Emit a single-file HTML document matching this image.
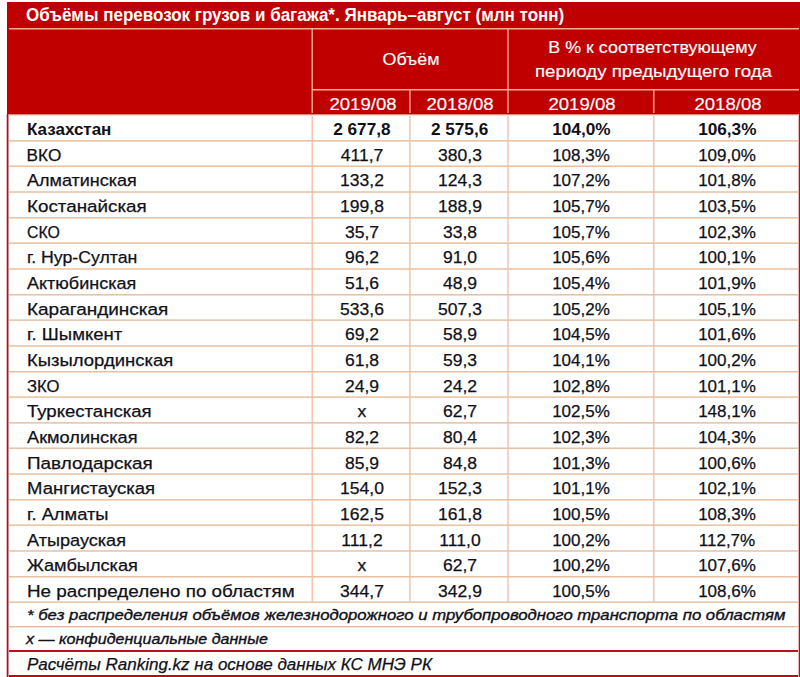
<!DOCTYPE html>
<html><head><meta charset="utf-8"><style>
html,body{margin:0;padding:0;background:#fff;}
body{width:800px;height:677px;overflow:hidden;position:relative;font-family:"Liberation Sans",sans-serif;font-size:17.2px;color:#101018;}
div{position:absolute;}
.t{white-space:nowrap;line-height:20px;height:20px;-webkit-text-stroke:0.25px #101018;}
.w{-webkit-text-stroke:0.15px #fff;}
.w{color:#fff;}
.b{font-weight:bold;-webkit-text-stroke:0;}
.c{text-align:center;transform-origin:50% 0;}
.l{transform-origin:0 0;}
</style></head><body>

<div style="left:7px;top:2px;width:793px;height:112px;background:#c00000"></div>
<div style="left:9px;top:28px;width:790px;height:1px;background:#ffb8a0;opacity:0.95"></div>
<div style="left:9px;top:29px;width:790px;height:1px;background:#ffb8a0;opacity:0.45"></div>
<div style="left:311px;top:29px;width:1px;height:85px;background:#ffb8a0;opacity:0.45"></div>
<div style="left:312px;top:29px;width:1px;height:85px;background:#ffb8a0;opacity:0.85"></div>
<div style="left:507px;top:29px;width:1px;height:85px;background:#ffb8a0;opacity:0.65"></div>
<div style="left:508px;top:29px;width:1px;height:85px;background:#ffb8a0;opacity:0.65"></div>
<div style="left:312px;top:89px;width:487px;height:1px;background:#ffb8a0;opacity:0.95"></div>
<div style="left:312px;top:90px;width:487px;height:1px;background:#ffb8a0;opacity:0.45"></div>
<div style="left:409px;top:90px;width:1px;height:24px;background:#ffb8a0;opacity:0.70"></div>
<div style="left:410px;top:90px;width:1px;height:24px;background:#ffb8a0;opacity:0.60"></div>
<div style="left:653px;top:90px;width:1px;height:24px;background:#ffb8a0;opacity:0.85"></div>
<div style="left:654px;top:90px;width:1px;height:24px;background:#ffb8a0;opacity:0.45"></div>
<div style="left:9px;top:140px;width:790px;height:1px;background:#e6bb9a;opacity:0.81"></div>
<div style="left:9px;top:141px;width:790px;height:1px;background:#e6bb9a;opacity:0.59"></div>
<div style="left:9px;top:165px;width:790px;height:1px;background:#e6bb9a;opacity:0.49"></div>
<div style="left:9px;top:166px;width:790px;height:1px;background:#e6bb9a;opacity:0.91"></div>
<div style="left:9px;top:191px;width:790px;height:1px;background:#e6bb9a;opacity:0.68"></div>
<div style="left:9px;top:192px;width:790px;height:1px;background:#e6bb9a;opacity:0.72"></div>
<div style="left:9px;top:217px;width:790px;height:1px;background:#e6bb9a;opacity:0.86"></div>
<div style="left:9px;top:218px;width:790px;height:1px;background:#e6bb9a;opacity:0.54"></div>
<div style="left:9px;top:242px;width:790px;height:1px;background:#e6bb9a;opacity:0.54"></div>
<div style="left:9px;top:243px;width:790px;height:1px;background:#e6bb9a;opacity:0.86"></div>
<div style="left:9px;top:268px;width:790px;height:1px;background:#e6bb9a;opacity:0.72"></div>
<div style="left:9px;top:269px;width:790px;height:1px;background:#e6bb9a;opacity:0.68"></div>
<div style="left:9px;top:294px;width:790px;height:1px;background:#e6bb9a;opacity:0.90"></div>
<div style="left:9px;top:295px;width:790px;height:1px;background:#e6bb9a;opacity:0.50"></div>
<div style="left:9px;top:319px;width:790px;height:1px;background:#e6bb9a;opacity:0.58"></div>
<div style="left:9px;top:320px;width:790px;height:1px;background:#e6bb9a;opacity:0.82"></div>
<div style="left:9px;top:345px;width:790px;height:1px;background:#e6bb9a;opacity:0.77"></div>
<div style="left:9px;top:346px;width:790px;height:1px;background:#e6bb9a;opacity:0.63"></div>
<div style="left:9px;top:371px;width:790px;height:1px;background:#e6bb9a;opacity:0.95"></div>
<div style="left:9px;top:372px;width:790px;height:1px;background:#e6bb9a;opacity:0.45"></div>
<div style="left:9px;top:396px;width:790px;height:1px;background:#e6bb9a;opacity:0.63"></div>
<div style="left:9px;top:397px;width:790px;height:1px;background:#e6bb9a;opacity:0.77"></div>
<div style="left:9px;top:422px;width:790px;height:1px;background:#e6bb9a;opacity:0.81"></div>
<div style="left:9px;top:423px;width:790px;height:1px;background:#e6bb9a;opacity:0.59"></div>
<div style="left:9px;top:447px;width:790px;height:1px;background:#e6bb9a;opacity:0.49"></div>
<div style="left:9px;top:448px;width:790px;height:1px;background:#e6bb9a;opacity:0.91"></div>
<div style="left:9px;top:473px;width:790px;height:1px;background:#e6bb9a;opacity:0.67"></div>
<div style="left:9px;top:474px;width:790px;height:1px;background:#e6bb9a;opacity:0.73"></div>
<div style="left:9px;top:499px;width:790px;height:1px;background:#e6bb9a;opacity:0.86"></div>
<div style="left:9px;top:500px;width:790px;height:1px;background:#e6bb9a;opacity:0.54"></div>
<div style="left:9px;top:524px;width:790px;height:1px;background:#e6bb9a;opacity:0.54"></div>
<div style="left:9px;top:525px;width:790px;height:1px;background:#e6bb9a;opacity:0.86"></div>
<div style="left:9px;top:550px;width:790px;height:1px;background:#e6bb9a;opacity:0.72"></div>
<div style="left:9px;top:551px;width:790px;height:1px;background:#e6bb9a;opacity:0.68"></div>
<div style="left:9px;top:576px;width:790px;height:1px;background:#e6bb9a;opacity:0.90"></div>
<div style="left:9px;top:577px;width:790px;height:1px;background:#e6bb9a;opacity:0.50"></div>
<div style="left:9px;top:601px;width:790px;height:1px;background:#e6bb9a;opacity:0.58"></div>
<div style="left:9px;top:602px;width:790px;height:1px;background:#e6bb9a;opacity:0.82"></div>
<div style="left:9px;top:113px;width:790px;height:1px;background:#b00000"></div>
<div style="left:9px;top:114px;width:790px;height:1px;background:#de8a74"></div>
<div style="left:9px;top:115px;width:790px;height:1px;background:#f9e0d2"></div>
<div style="left:311px;top:116px;width:1px;height:486px;background:#eebc9e;opacity:0.45"></div>
<div style="left:312px;top:116px;width:1px;height:486px;background:#eebc9e;opacity:0.85"></div>
<div style="left:409px;top:116px;width:1px;height:486px;background:#eebc9e;opacity:0.70"></div>
<div style="left:410px;top:116px;width:1px;height:486px;background:#eebc9e;opacity:0.60"></div>
<div style="left:507px;top:116px;width:1px;height:486px;background:#eebc9e;opacity:0.65"></div>
<div style="left:508px;top:116px;width:1px;height:486px;background:#eebc9e;opacity:0.65"></div>
<div style="left:653px;top:116px;width:1px;height:486px;background:#eebc9e;opacity:0.85"></div>
<div style="left:654px;top:116px;width:1px;height:486px;background:#eebc9e;opacity:0.45"></div>
<div style="left:9px;top:626px;width:790px;height:1px;background:#e6bb9a;opacity:0.95"></div>
<div style="left:9px;top:627px;width:790px;height:1px;background:#e6bb9a;opacity:0.45"></div>
<div style="left:9px;top:650px;width:790px;height:2px;background:#b8121c"></div>
<div style="left:7px;top:675px;width:793px;height:2px;background:#bc0a12"></div>
<div style="left:6px;top:114px;width:1px;height:563px;background:#f0b8bc"></div>
<div style="left:7px;top:114px;width:1px;height:563px;background:#8e1e26"></div>
<div style="left:8px;top:114px;width:1px;height:563px;background:#d08a8e"></div>
<div style="left:798px;top:114px;width:1px;height:563px;background:#f0b8bc"></div>
<div style="left:799px;top:114px;width:1px;height:563px;background:#921e24"></div>
<div class="t l w b" style="left:26.00px;top:5.16px;font-size:18.00px;transform:scaleX(0.9450);">Объёмы перевозок грузов и багажа*. Январь–август (млн тонн)</div>
<div class="t c w" style="left:312.70px;top:48.64px;width:196px;font-size:17.20px;transform:scaleX(1.0400);">Объём</div>
<div class="t c w" style="left:506.70px;top:36.54px;width:291px;font-size:17.20px;transform:scaleX(1.0400);">В % к соответствующему</div>
<div class="t c w" style="left:507.70px;top:61.44px;width:291px;font-size:17.20px;transform:scaleX(1.0870);">периоду предыдущего года</div>
<div class="t c w" style="left:313.50px;top:93.64px;width:98px;font-size:17.20px;transform:scaleX(1.0800);">2019/08</div>
<div class="t c w" style="left:411.00px;top:93.64px;width:98px;font-size:17.20px;transform:scaleX(1.0800);">2018/08</div>
<div class="t c w" style="left:533.10px;top:93.64px;width:98px;font-size:17.20px;transform:scaleX(1.0800);">2019/08</div>
<div class="t c w" style="left:678.90px;top:93.64px;width:98px;font-size:17.20px;transform:scaleX(1.0800);">2018/08</div>
<div class="t l b" style="left:26.60px;top:118.92px;font-size:17.20px;transform:scaleX(0.9881);">Казахстан</div>
<div class="t c b" style="left:313.90px;top:118.92px;width:96px;font-size:17.20px;transform:scaleX(1.0000);">2 677,8</div>
<div class="t c b" style="left:411.60px;top:118.92px;width:96px;font-size:17.20px;transform:scaleX(1.0000);">2 575,6</div>
<div class="t c b" style="left:533.40px;top:118.92px;width:96px;font-size:17.20px;transform:scaleX(1.0000);">104,0%</div>
<div class="t c b" style="left:679.30px;top:118.92px;width:96px;font-size:17.20px;transform:scaleX(1.0000);">106,3%</div>
<div class="t l " style="left:26.60px;top:144.58px;font-size:17.20px;transform:scaleX(1.0000);">ВКО</div>
<div class="t c " style="left:313.90px;top:144.58px;width:96px;font-size:17.20px;transform:scaleX(1.0200);">411,7</div>
<div class="t c " style="left:411.60px;top:144.58px;width:96px;font-size:17.20px;transform:scaleX(1.0200);">380,3</div>
<div class="t c " style="left:533.40px;top:144.58px;width:96px;font-size:17.20px;transform:scaleX(0.9900);">108,3%</div>
<div class="t c " style="left:679.30px;top:144.58px;width:96px;font-size:17.20px;transform:scaleX(0.9900);">109,0%</div>
<div class="t l " style="left:26.60px;top:170.25px;font-size:17.20px;transform:scaleX(1.0481);">Алматинская</div>
<div class="t c " style="left:313.90px;top:170.25px;width:96px;font-size:17.20px;transform:scaleX(1.0200);">133,2</div>
<div class="t c " style="left:411.60px;top:170.25px;width:96px;font-size:17.20px;transform:scaleX(1.0200);">124,3</div>
<div class="t c " style="left:533.40px;top:170.25px;width:96px;font-size:17.20px;transform:scaleX(0.9900);">107,2%</div>
<div class="t c " style="left:679.30px;top:170.25px;width:96px;font-size:17.20px;transform:scaleX(0.9900);">101,8%</div>
<div class="t l " style="left:26.60px;top:195.92px;font-size:17.20px;transform:scaleX(1.0935);">Костанайская</div>
<div class="t c " style="left:313.90px;top:195.92px;width:96px;font-size:17.20px;transform:scaleX(1.0200);">199,8</div>
<div class="t c " style="left:411.60px;top:195.92px;width:96px;font-size:17.20px;transform:scaleX(1.0200);">188,9</div>
<div class="t c " style="left:533.40px;top:195.92px;width:96px;font-size:17.20px;transform:scaleX(0.9900);">105,7%</div>
<div class="t c " style="left:679.30px;top:195.92px;width:96px;font-size:17.20px;transform:scaleX(0.9900);">103,5%</div>
<div class="t l " style="left:26.60px;top:221.58px;font-size:17.20px;transform:scaleX(0.9257);">СКО</div>
<div class="t c " style="left:313.90px;top:221.58px;width:96px;font-size:17.20px;transform:scaleX(1.0200);">35,7</div>
<div class="t c " style="left:411.60px;top:221.58px;width:96px;font-size:17.20px;transform:scaleX(1.0200);">33,8</div>
<div class="t c " style="left:533.40px;top:221.58px;width:96px;font-size:17.20px;transform:scaleX(0.9900);">105,7%</div>
<div class="t c " style="left:679.30px;top:221.58px;width:96px;font-size:17.20px;transform:scaleX(0.9900);">102,3%</div>
<div class="t l " style="left:26.60px;top:247.25px;font-size:17.20px;transform:scaleX(1.0283);">г. Нур-Султан</div>
<div class="t c " style="left:313.90px;top:247.25px;width:96px;font-size:17.20px;transform:scaleX(1.0200);">96,2</div>
<div class="t c " style="left:411.60px;top:247.25px;width:96px;font-size:17.20px;transform:scaleX(1.0200);">91,0</div>
<div class="t c " style="left:533.40px;top:247.25px;width:96px;font-size:17.20px;transform:scaleX(0.9900);">105,6%</div>
<div class="t c " style="left:679.30px;top:247.25px;width:96px;font-size:17.20px;transform:scaleX(0.9900);">100,1%</div>
<div class="t l " style="left:26.60px;top:272.92px;font-size:17.20px;transform:scaleX(1.0481);">Актюбинская</div>
<div class="t c " style="left:313.90px;top:272.92px;width:96px;font-size:17.20px;transform:scaleX(1.0200);">51,6</div>
<div class="t c " style="left:411.60px;top:272.92px;width:96px;font-size:17.20px;transform:scaleX(1.0200);">48,9</div>
<div class="t c " style="left:533.40px;top:272.92px;width:96px;font-size:17.20px;transform:scaleX(0.9900);">105,4%</div>
<div class="t c " style="left:679.30px;top:272.92px;width:96px;font-size:17.20px;transform:scaleX(0.9900);">101,9%</div>
<div class="t l " style="left:26.60px;top:298.58px;font-size:17.20px;transform:scaleX(1.1032);">Карагандинская</div>
<div class="t c " style="left:313.90px;top:298.58px;width:96px;font-size:17.20px;transform:scaleX(1.0200);">533,6</div>
<div class="t c " style="left:411.60px;top:298.58px;width:96px;font-size:17.20px;transform:scaleX(1.0200);">507,3</div>
<div class="t c " style="left:533.40px;top:298.58px;width:96px;font-size:17.20px;transform:scaleX(0.9900);">105,2%</div>
<div class="t c " style="left:679.30px;top:298.58px;width:96px;font-size:17.20px;transform:scaleX(0.9900);">105,1%</div>
<div class="t l " style="left:26.60px;top:324.25px;font-size:17.20px;transform:scaleX(1.0795);">г. Шымкент</div>
<div class="t c " style="left:313.90px;top:324.25px;width:96px;font-size:17.20px;transform:scaleX(1.0200);">69,2</div>
<div class="t c " style="left:411.60px;top:324.25px;width:96px;font-size:17.20px;transform:scaleX(1.0200);">58,9</div>
<div class="t c " style="left:533.40px;top:324.25px;width:96px;font-size:17.20px;transform:scaleX(0.9900);">104,5%</div>
<div class="t c " style="left:679.30px;top:324.25px;width:96px;font-size:17.20px;transform:scaleX(0.9900);">101,6%</div>
<div class="t l " style="left:26.60px;top:349.92px;font-size:17.20px;transform:scaleX(1.0746);">Кызылординская</div>
<div class="t c " style="left:313.90px;top:349.92px;width:96px;font-size:17.20px;transform:scaleX(1.0200);">61,8</div>
<div class="t c " style="left:411.60px;top:349.92px;width:96px;font-size:17.20px;transform:scaleX(1.0200);">59,3</div>
<div class="t c " style="left:533.40px;top:349.92px;width:96px;font-size:17.20px;transform:scaleX(0.9900);">104,1%</div>
<div class="t c " style="left:679.30px;top:349.92px;width:96px;font-size:17.20px;transform:scaleX(0.9900);">100,2%</div>
<div class="t l " style="left:26.60px;top:375.58px;font-size:17.20px;transform:scaleX(0.9697);">ЗКО</div>
<div class="t c " style="left:313.90px;top:375.58px;width:96px;font-size:17.20px;transform:scaleX(1.0200);">24,9</div>
<div class="t c " style="left:411.60px;top:375.58px;width:96px;font-size:17.20px;transform:scaleX(1.0200);">24,2</div>
<div class="t c " style="left:533.40px;top:375.58px;width:96px;font-size:17.20px;transform:scaleX(0.9900);">102,8%</div>
<div class="t c " style="left:679.30px;top:375.58px;width:96px;font-size:17.20px;transform:scaleX(0.9900);">101,1%</div>
<div class="t l " style="left:26.60px;top:401.25px;font-size:17.20px;transform:scaleX(1.0789);">Туркестанская</div>
<div class="t c " style="left:313.90px;top:401.25px;width:96px;font-size:17.20px;transform:scaleX(1.0200);">х</div>
<div class="t c " style="left:411.60px;top:401.25px;width:96px;font-size:17.20px;transform:scaleX(1.0200);">62,7</div>
<div class="t c " style="left:533.40px;top:401.25px;width:96px;font-size:17.20px;transform:scaleX(0.9900);">102,5%</div>
<div class="t c " style="left:679.30px;top:401.25px;width:96px;font-size:17.20px;transform:scaleX(0.9900);">148,1%</div>
<div class="t l " style="left:26.60px;top:426.92px;font-size:17.20px;transform:scaleX(1.0577);">Акмолинская</div>
<div class="t c " style="left:313.90px;top:426.92px;width:96px;font-size:17.20px;transform:scaleX(1.0200);">82,2</div>
<div class="t c " style="left:411.60px;top:426.92px;width:96px;font-size:17.20px;transform:scaleX(1.0200);">80,4</div>
<div class="t c " style="left:533.40px;top:426.92px;width:96px;font-size:17.20px;transform:scaleX(0.9900);">102,3%</div>
<div class="t c " style="left:679.30px;top:426.92px;width:96px;font-size:17.20px;transform:scaleX(0.9900);">104,3%</div>
<div class="t l " style="left:26.60px;top:452.58px;font-size:17.20px;transform:scaleX(1.0982);">Павлодарская</div>
<div class="t c " style="left:313.90px;top:452.58px;width:96px;font-size:17.20px;transform:scaleX(1.0200);">85,9</div>
<div class="t c " style="left:411.60px;top:452.58px;width:96px;font-size:17.20px;transform:scaleX(1.0200);">84,8</div>
<div class="t c " style="left:533.40px;top:452.58px;width:96px;font-size:17.20px;transform:scaleX(0.9900);">101,3%</div>
<div class="t c " style="left:679.30px;top:452.58px;width:96px;font-size:17.20px;transform:scaleX(0.9900);">100,6%</div>
<div class="t l " style="left:26.60px;top:478.25px;font-size:17.20px;transform:scaleX(1.0776);">Мангистауская</div>
<div class="t c " style="left:313.90px;top:478.25px;width:96px;font-size:17.20px;transform:scaleX(1.0200);">154,0</div>
<div class="t c " style="left:411.60px;top:478.25px;width:96px;font-size:17.20px;transform:scaleX(1.0200);">152,3</div>
<div class="t c " style="left:533.40px;top:478.25px;width:96px;font-size:17.20px;transform:scaleX(0.9900);">101,1%</div>
<div class="t c " style="left:679.30px;top:478.25px;width:96px;font-size:17.20px;transform:scaleX(0.9900);">102,1%</div>
<div class="t l " style="left:26.60px;top:503.92px;font-size:17.20px;transform:scaleX(1.0667);">г. Алматы</div>
<div class="t c " style="left:313.90px;top:503.92px;width:96px;font-size:17.20px;transform:scaleX(1.0200);">162,5</div>
<div class="t c " style="left:411.60px;top:503.92px;width:96px;font-size:17.20px;transform:scaleX(1.0200);">161,8</div>
<div class="t c " style="left:533.40px;top:503.92px;width:96px;font-size:17.20px;transform:scaleX(0.9900);">100,5%</div>
<div class="t c " style="left:679.30px;top:503.92px;width:96px;font-size:17.20px;transform:scaleX(0.9900);">108,3%</div>
<div class="t l " style="left:26.60px;top:529.58px;font-size:17.20px;transform:scaleX(1.0532);">Атырауская</div>
<div class="t c " style="left:313.90px;top:529.58px;width:96px;font-size:17.20px;transform:scaleX(1.0200);">111,2</div>
<div class="t c " style="left:411.60px;top:529.58px;width:96px;font-size:17.20px;transform:scaleX(1.0200);">111,0</div>
<div class="t c " style="left:533.40px;top:529.58px;width:96px;font-size:17.20px;transform:scaleX(0.9900);">100,2%</div>
<div class="t c " style="left:679.30px;top:529.58px;width:96px;font-size:17.20px;transform:scaleX(0.9900);">112,7%</div>
<div class="t l " style="left:26.60px;top:555.25px;font-size:17.20px;transform:scaleX(1.0583);">Жамбылская</div>
<div class="t c " style="left:313.90px;top:555.25px;width:96px;font-size:17.20px;transform:scaleX(1.0200);">х</div>
<div class="t c " style="left:411.60px;top:555.25px;width:96px;font-size:17.20px;transform:scaleX(1.0200);">62,7</div>
<div class="t c " style="left:533.40px;top:555.25px;width:96px;font-size:17.20px;transform:scaleX(0.9900);">100,2%</div>
<div class="t c " style="left:679.30px;top:555.25px;width:96px;font-size:17.20px;transform:scaleX(0.9900);">107,6%</div>
<div class="t l " style="left:26.60px;top:580.92px;font-size:17.20px;transform:scaleX(1.0950);">Не распределено по областям</div>
<div class="t c " style="left:313.90px;top:580.92px;width:96px;font-size:17.20px;transform:scaleX(1.0200);">344,7</div>
<div class="t c " style="left:411.60px;top:580.92px;width:96px;font-size:17.20px;transform:scaleX(1.0200);">342,9</div>
<div class="t c " style="left:533.40px;top:580.92px;width:96px;font-size:17.20px;transform:scaleX(0.9900);">100,5%</div>
<div class="t c " style="left:679.30px;top:580.92px;width:96px;font-size:17.20px;transform:scaleX(0.9900);">108,6%</div>
<div class="t l " style="left:26.50px;top:605.47px;font-size:14.80px;transform:scaleX(1.1300);font-style:italic;-webkit-text-stroke:0.35px #101018">* без распределения объёмов железнодорожного и трубопроводного транспорта по областям</div>
<div class="t l " style="left:26.00px;top:629.37px;font-size:14.80px;transform:scaleX(1.0850);font-style:italic;-webkit-text-stroke:0.35px #101018">х — конфиденциальные данные</div>
<div class="t l " style="left:26.50px;top:654.34px;font-size:17.20px;transform:scaleX(0.9900);font-style:italic">Расчёты Ranking.kz на основе данных КС МНЭ РК</div>
</body></html>
